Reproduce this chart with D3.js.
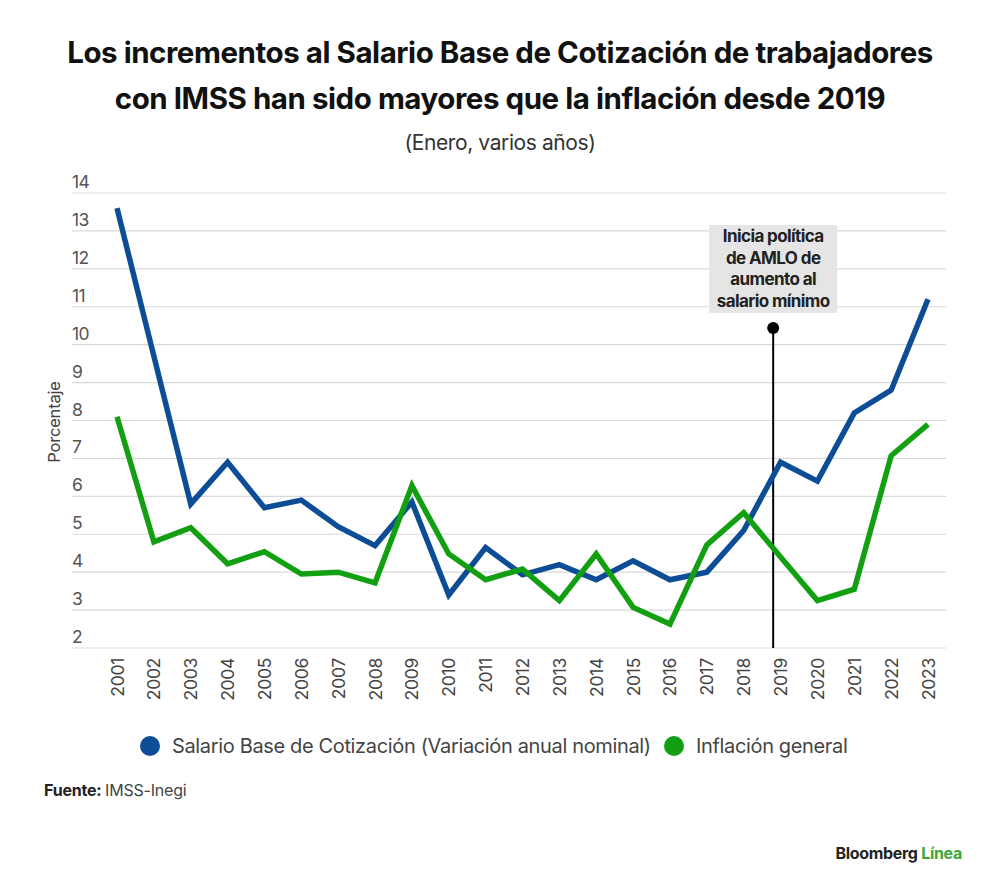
<!DOCTYPE html>
<html>
<head>
<meta charset="utf-8">
<script src="https://cdn.jsdelivr.net/npm/d3@7"></script>
<style>
  body { margin: 0; background: #fff; }
  svg { display: block; font-family: Inter, "Noto Sans", sans-serif; }
</style>
</head>
<body>
<div id="dataviz"></div>
<script>
//----------------
// Data
//----------------
const years = d3.range(2001, 2024);
const salario = [13.6, 9.7, 5.8, 6.9, 5.7, 5.9, 5.2, 4.7, 5.85, 3.4, 4.65, 3.93, 4.2, 3.8, 4.3, 3.8, 4.0, 5.1, 6.9, 6.4, 8.2, 8.8, 11.2];
const inflacion = [8.1, 4.8, 5.17, 4.22, 4.54, 3.95, 4.0, 3.72, 6.28, 4.48, 3.8, 4.08, 3.25, 4.48, 3.07, 2.63, 4.72, 5.57, 4.4, 3.25, 3.55, 7.07, 7.9];
const yTicks = [2, 3, 4, 5, 6, 7, 8, 9, 10, 11, 12, 13, 14];
const seriesNames = ["Salario Base de Cotización (Variación anual nominal)", "Inflación general"];
const annotationYear = 2018.8;
const annotationLines = ["Inicia política", "de AMLO de", "aumento al", "salario mínimo"];

//----------------
// Constants
//----------------
const width = 1000, height = 892;
const colors = ["#0d4d96", "#12a012"];
const textGray = "#444";

const svg = d3.select("#dataviz").append("svg")
  .attr("width", width)
  .attr("height", height);

const x = d3.scaleLinear().domain([2001, 2023]).range([117, 928]);
const y = d3.scaleLinear().domain([2, 14]).range([648, 193]);

// ----------------
// Titles
// ----------------
svg.append("text")
  .attr("x", 500).attr("y", 63)
  .attr("text-anchor", "middle")
  .attr("font-size", 29.5).attr("font-weight", 700)
  .attr("letter-spacing", -0.45)
  .attr("fill", "#111")
  .text("Los incrementos al Salario Base de Cotización de trabajadores");

svg.append("text")
  .attr("x", 500).attr("y", 109)
  .attr("text-anchor", "middle")
  .attr("font-size", 29.5).attr("font-weight", 700)
  .attr("letter-spacing", -0.45)
  .attr("fill", "#111")
  .text("con IMSS han sido mayores que la inflación desde 2019");

svg.append("text")
  .attr("x", 500).attr("y", 150)
  .attr("text-anchor", "middle")
  .attr("font-size", 21)
  .attr("letter-spacing", -0.4)
  .attr("fill", "#333")
  .text("(Enero, varios años)");

// ----------------
// Grid + axes
// ----------------
const grid = svg.append("g").attr("id", "grid");
grid.selectAll("line")
  .data(yTicks)
  .enter().append("line")
  .attr("x1", 72).attr("x2", 946)
  .attr("y1", d => y(d)).attr("y2", d => y(d))
  .attr("stroke", "#d9d9d9")
  .attr("stroke-width", 1.2);

grid.selectAll("text")
  .data(yTicks)
  .enter().append("text")
  .attr("x", 72)
  .attr("y", d => y(d) - 5)
  .attr("font-size", 17.5)
  .attr("letter-spacing", -0.6)
  .attr("fill", "#555")
  .text(d => d);

svg.append("text")
  .attr("transform", "translate(60, 422) rotate(-90)")
  .attr("text-anchor", "middle")
  .attr("font-size", 16.5)
  .attr("letter-spacing", -0.2)
  .attr("fill", textGray)
  .text("Porcentaje");

svg.append("g")
  .selectAll("text")
  .data(years)
  .enter().append("text")
  .attr("transform", d => "translate(" + (x(d) + 6.5) + ", 658) rotate(-90)")
  .attr("text-anchor", "end")
  .attr("font-size", 17.5)
  .attr("letter-spacing", -0.3)
  .attr("fill", textGray)
  .text(d => d);

// ----------------
// Annotation
// ----------------
const ax = x(annotationYear);
svg.append("line")
  .attr("x1", ax).attr("x2", ax)
  .attr("y1", 328).attr("y2", y(2))
  .attr("stroke", "#000")
  .attr("stroke-width", 2);
svg.append("circle")
  .attr("cx", ax).attr("cy", 328)
  .attr("r", 6)
  .attr("fill", "#000");

svg.append("rect")
  .attr("x", ax - 64).attr("y", 225)
  .attr("width", 128).attr("height", 88)
  .attr("fill", "#e5e5e5");

svg.append("g")
  .selectAll("text")
  .data(annotationLines)
  .enter().append("text")
  .attr("x", ax)
  .attr("y", (_, i) => 242 + i * 21.5)
  .attr("text-anchor", "middle")
  .attr("font-size", 17)
  .attr("font-weight", 700)
  .attr("letter-spacing", -0.6)
  .attr("fill", "#222")
  .text(d => d);

// ----------------
// Lines
// ----------------
const line = d3.line()
  .x((_, i) => x(years[i]))
  .y(d => y(d));

svg.append("g")
  .selectAll("path")
  .data([salario, inflacion])
  .enter().append("path")
  .attr("d", d => line(d))
  .attr("fill", "none")
  .attr("stroke", (_, i) => colors[i])
  .attr("stroke-width", 5.5)
  .attr("stroke-linejoin", "miter");

// ----------------
// Legend
// ----------------
const legendX = [150, 674];
const legend = svg.append("g").attr("id", "legend");
legend.selectAll("circle")
  .data(seriesNames)
  .enter().append("circle")
  .attr("cx", (_, i) => legendX[i])
  .attr("cy", 746)
  .attr("r", 10)
  .attr("fill", (_, i) => colors[i]);
legend.selectAll("text")
  .data(seriesNames)
  .enter().append("text")
  .attr("x", (_, i) => legendX[i] + 22)
  .attr("y", 753)
  .attr("font-size", 20)
  .attr("letter-spacing", -0.35)
  .attr("fill", textGray)
  .text(d => d);

// ----------------
// Footer
// ----------------
const src = svg.append("text")
  .attr("x", 44).attr("y", 796)
  .attr("font-size", 16)
  .attr("letter-spacing", -0.2)
  .attr("fill", "#222");
src.append("tspan").attr("font-weight", 700).text("Fuente: ");
src.append("tspan").attr("fill", textGray).text("IMSS-Inegi");

const brand = svg.append("text")
  .attr("x", 962).attr("y", 859)
  .attr("text-anchor", "end")
  .attr("font-size", 16)
  .attr("font-weight", 700)
  .attr("letter-spacing", -0.3)
  .attr("fill", "#222");
brand.append("tspan").text("Bloomberg ");
brand.append("tspan").attr("fill", "#3aaa35").text("Línea");
</script>
</body>
</html>
